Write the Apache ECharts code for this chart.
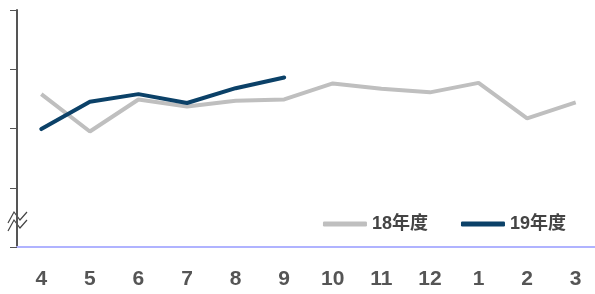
<!DOCTYPE html>
<html>
<head>
<meta charset="utf-8">
<script src="https://cdn.jsdelivr.net/npm/echarts@6/dist/echarts.min.js"></script>
<style>
html,body{margin:0;padding:0;background:#fff;}
#container{width:595px;height:294px;}
</style>
</head>
<body>
<div id="container"></div>
<script>
var months = ['4', '5', '6', '7', '8', '9', '10', '11', '12', '1', '2', '3'];
var fy18 = [2.58, 1.95, 2.49, 2.37, 2.47, 2.49, 2.76, 2.67, 2.61, 2.77, 2.17, 2.44];
var fy19 = [1.99, 2.45, 2.58, 2.43, 2.68, 2.86];
var seriesNames = ['18年度', '19年度'];

var dom = document.getElementById('container');
var myChart = echarts.init(dom);
var font = '"Liberation Sans", "Noto Sans CJK SC", sans-serif';

var option = {
    animation: false,
    grid: {
        left: 17,
        right: -5,
        top: 10,
        bottom: 47,
        outerBoundsMode: 'none'
    },
    legend: {
        data: seriesNames,
        right: 24,
        top: 210,
        itemWidth: 44,
        itemHeight: 5,
        itemGap: 33,
        icon: 'roundRect',
        textStyle: {
            fontFamily: font,
            fontSize: 18,
            fontWeight: 'bold',
            color: '#444'
        }
    },
    xAxis: {
        type: 'category',
        data: months,
        boundaryGap: true,
        axisLine: {lineStyle: {color: '#b0b3ff', width: 2}},
        axisTick: {show: false},
        axisLabel: {
            margin: 22,
            fontFamily: font,
            fontSize: 21,
            fontWeight: 'bold',
            color: '#555'
        }
    },
    yAxis: {
        type: 'value',
        min: 0,
        max: 4,
        interval: 1,
        axisLine: {show: true, lineStyle: {color: '#555', width: 2}},
        axisTick: {show: true, length: 7, lineStyle: {color: '#555', width: 1}},
        axisLabel: {show: false},
        splitLine: {show: false}
    },
    graphic: [
        {
            type: 'polyline',
            shape: {points: [[8, 223], [14, 212], [20, 220], [27, 212]]},
            style: {stroke: '#444', lineWidth: 1.2, fill: null}
        },
        {
            type: 'polyline',
            shape: {points: [[8, 231], [14, 220], [20, 228], [27, 220]]},
            style: {stroke: '#444', lineWidth: 1.2, fill: null}
        }
    ],
    series: [
        {
            name: seriesNames[0],
            type: 'line',
            data: fy18,
            symbol: 'none',
            lineStyle: {color: '#bfbfbf', width: 4},
            itemStyle: {color: '#bfbfbf'}
        },
        {
            name: seriesNames[1],
            type: 'line',
            data: fy19,
            symbol: 'none',
            lineStyle: {color: '#0b4168', width: 4, cap: 'round'},
            itemStyle: {color: '#0b4168'}
        }
    ]
};
myChart.setOption(option, true);
</script>
</body>
</html>
